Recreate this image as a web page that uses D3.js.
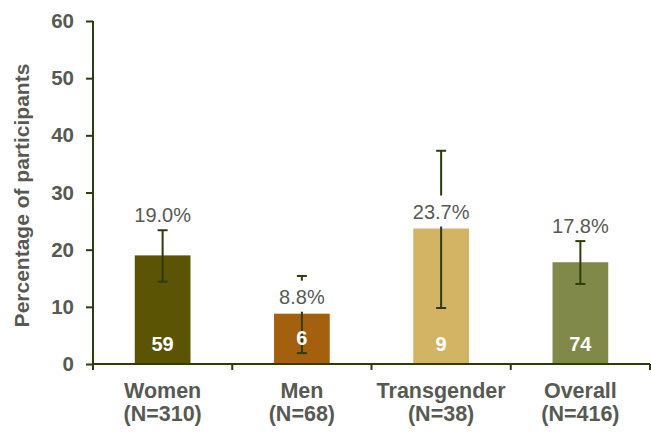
<!DOCTYPE html>
<html><head><meta charset="utf-8">
<script src="https://cdn.jsdelivr.net/npm/d3@7"></script>
<style>body{margin:0;background:#fff}svg{display:block}</style>
</head><body><svg id="c" width="651" height="432"></svg>
<script>
const categories = ["Women", "Men", "Transgender", "Overall"];
const sampleN = ["(N=310)", "(N=68)", "(N=38)", "(N=416)"];
const percentages = [19.0, 8.8, 23.7, 17.8];
const counts = [59, 6, 9, 74];
const ciLow = [14.4, 1.9, 9.8, 14.0];
const ciHigh = [23.4, 15.4, 37.3, 21.5];
const barColors = ["#5b5405", "#a5600e", "#d3b465", "#81894a"];
const yTicks = [0, 10, 20, 30, 40, 50, 60];

const svg = d3.select("#c");
const m = {left: 93, right: 650, top: 21, bottom: 364};
const axisColor = "#2e3b0b";
const textColor = "#575a52";
const font = "Liberation Sans, Arial, sans-serif";

const x = d3.scaleBand().domain(categories).range([m.left, m.right]).paddingInner(0).paddingOuter(0);
const y = d3.scaleLinear().domain([0, 60]).range([m.bottom, m.top]);
const barW = x.bandwidth() * 0.4;

// bars
svg.selectAll("rect.bar").data(categories).join("rect")
  .attr("x", d => x(d) + (x.bandwidth() - barW) / 2)
  .attr("y", (d, i) => y(percentages[i]))
  .attr("width", barW)
  .attr("height", (d, i) => y(0) - y(percentages[i]))
  .attr("fill", (d, i) => barColors[i]);

// error bars
const eb = svg.append("g").attr("stroke", axisColor).attr("stroke-width", 2);
categories.forEach((c, i) => {
  const cx = x(c) + x.bandwidth() / 2;
  eb.append("line").attr("x1", cx).attr("x2", cx).attr("y1", y(ciLow[i])).attr("y2", y(ciHigh[i]));
  eb.append("line").attr("x1", cx - 5).attr("x2", cx + 5).attr("y1", y(ciLow[i])).attr("y2", y(ciLow[i]));
  eb.append("line").attr("x1", cx - 5).attr("x2", cx + 5).attr("y1", y(ciHigh[i])).attr("y2", y(ciHigh[i]));
});

// value labels with white background
categories.forEach((c, i) => {
  const cx = x(c) + x.bandwidth() / 2;
  const above = (ciHigh[i] - percentages[i] < 5);
  const anchor = above ? y(ciHigh[i]) : y(percentages[i]);
  const base = anchor - (above ? 8 : 10);
  if (!above) {
    svg.append("rect").attr("x", cx - 36).attr("y", base - 23).attr("width", 72).attr("height", 31).attr("fill", "#fff");
  }
  svg.append("text").attr("x", cx).attr("y", base).attr("text-anchor", "middle")
    .attr("font-family", font).attr("font-size", 20)
    .attr("fill", textColor).text(percentages[i].toFixed(1) + "%");
  // count inside bar
  const top = y(percentages[i]), h = y(0) - top;
  const cy = h < 60 ? top + h / 2 + 6 : y(0) - 13;
  svg.append("text").attr("x", cx).attr("y", cy).attr("text-anchor", "middle")
    .attr("font-family", font).attr("font-size", 20).attr("font-weight", "bold")
    .attr("fill", "#fff").text(counts[i]);
});

// y axis
const ya = svg.append("g").attr("transform", `translate(${m.left},0)`)
  .call(d3.axisLeft(y).tickValues(yTicks).tickSize(7).tickPadding(12));
ya.select(".domain").remove();
ya.selectAll(".tick line").attr("stroke", axisColor).attr("stroke-width", 2);
ya.selectAll(".tick text").attr("font-family", font)
  .attr("font-size", 20.5).attr("font-weight", "bold").attr("fill", textColor);
svg.append("line").attr("x1", m.left).attr("x2", m.left).attr("y1", y(60)).attr("y2", y(0) + 6)
  .attr("stroke", axisColor).attr("stroke-width", 2);

// x axis
svg.append("line").attr("x1", m.left).attr("x2", m.right).attr("y1", y(0)).attr("y2", y(0))
  .attr("stroke", axisColor).attr("stroke-width", 2);
const bounds = categories.map(c => x(c)).concat([x(categories[categories.length - 1]) + x.bandwidth()]);
svg.selectAll("line.xt").data(bounds).join("line")
  .attr("x1", d => d).attr("x2", d => d).attr("y1", y(0)).attr("y2", y(0) + 6)
  .attr("stroke", axisColor).attr("stroke-width", 2);

categories.forEach((c, i) => {
  const cx = x(c) + x.bandwidth() / 2;
  const t = svg.append("text").attr("x", cx).attr("y", 398).attr("text-anchor", "middle")
    .attr("font-family", font).attr("font-size", 21.5).attr("font-weight", "bold")
    .attr("fill", textColor);
  t.append("tspan").attr("x", cx).text(c);
  t.append("tspan").attr("x", cx).attr("dy", 23).text(sampleN[i]);
});

// y title
svg.append("text").attr("transform", `translate(29,${(y(0)+y(60))/2 + 3}) rotate(-90)`)
  .attr("text-anchor", "middle").attr("font-family", font)
  .attr("font-size", 21).attr("font-weight", "bold").attr("fill", textColor)
  .text("Percentage of participants");
</script></body></html>
